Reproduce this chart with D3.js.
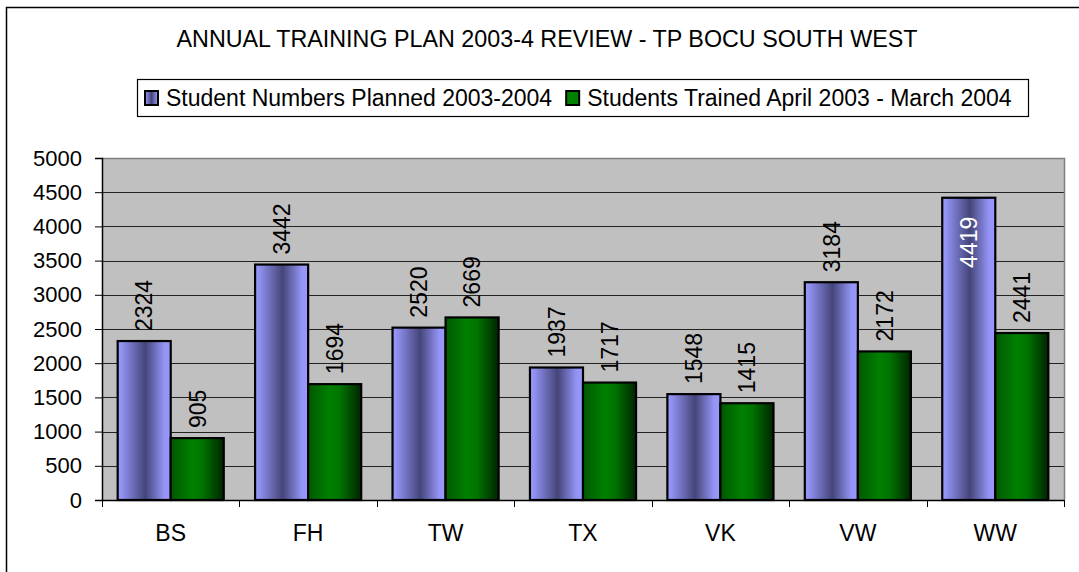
<!DOCTYPE html>
<html>
<head>
<meta charset="utf-8">
<script src="https://cdn.jsdelivr.net/npm/d3@7/dist/d3.min.js"></script>
<style>
  body { margin: 0; background: #fff; }
  text { font-family: Arial, "Liberation Sans", sans-serif; fill: #000; }
</style>
</head>
<body>
<div id="chart"></div>
<script>
// chart data
var categories = ["BS", "FH", "TW", "TX", "VK", "VW", "WW"];
var seriesNames = ["Student Numbers Planned 2003-2004", "Students Trained April 2003 - March 2004"];
var planned = [2324, 3442, 2520, 1937, 1548, 3184, 4419];
var trained = [905, 1694, 2669, 1717, 1415, 2172, 2441];
var yTicks = [0, 500, 1000, 1500, 2000, 2500, 3000, 3500, 4000, 4500, 5000];
var titleText = "ANNUAL TRAINING PLAN 2003-4 REVIEW - TP BOCU SOUTH WEST";

var W = 1079, H = 572;
var plot = {left: 102, right: 1064, top: 158, bottom: 500};

var svg = d3.select("#chart").append("svg")
    .attr("width", W)
    .attr("height", H);

// gradients for the excel style bars
var defs = svg.append("defs");
var gBlue = defs.append("linearGradient").attr("id", "gBlue")
    .attr("x1", "0%").attr("x2", "100%").attr("y1", "0%").attr("y2", "0%");
[[0, "#9999ff"], [0.06, "#9494f6"], [0.52, "#45457a"], [0.88, "#9494f6"], [1, "#9999ff"]]
  .forEach(function(s) { gBlue.append("stop").attr("offset", s[0]).attr("stop-color", s[1]); });
var gGreen = defs.append("linearGradient").attr("id", "gGreen")
    .attr("x1", "0%").attr("x2", "100%").attr("y1", "0%").attr("y2", "0%");
[[0, "#005800"], [0.4, "#008000"], [0.6, "#007400"], [1, "#002400"]]
  .forEach(function(s) { gGreen.append("stop").attr("offset", s[0]).attr("stop-color", s[1]); });
var gradSwatch = defs.append("linearGradient").attr("id", "gSwatch")
    .attr("x1", "0%").attr("x2", "100%");
[[0, "#9999ff"], [0.5, "#45457a"], [1, "#9999ff"]]
  .forEach(function(s) { gradSwatch.append("stop").attr("offset", s[0]).attr("stop-color", s[1]); });

// outer chart border (right and bottom fall outside the picture)
svg.append("rect")
    .attr("x", 6.5).attr("y", 7.5)
    .attr("width", W + 20).attr("height", H + 20)
    .attr("fill", "#fff")
    .attr("stroke", "#000")
    .attr("stroke-width", 1.5);

// scales
var x = d3.scaleBand()
    .domain(categories)
    .range([plot.left, plot.right]);

var groupW = x.bandwidth() * 0.772;
var x1 = d3.scaleBand()
    .domain([0, 1])
    .range([(x.bandwidth() - groupW) / 2, (x.bandwidth() + groupW) / 2]);

var y = d3.scaleLinear()
    .domain([0, 5000])
    .range([plot.bottom, plot.top]);

// plot background
svg.append("rect")
    .attr("x", plot.left).attr("y", plot.top)
    .attr("width", plot.right - plot.left)
    .attr("height", plot.bottom - plot.top)
    .attr("fill", "#c0c0c0");

// gridlines
svg.append("g")
    .selectAll("line")
    .data(yTicks.filter(function(t) { return t > 0 && t < 5000; }))
    .enter().append("line")
    .attr("x1", plot.left).attr("x2", plot.right)
    .attr("y1", function(d) { return Math.round(y(d)) + 0.5; })
    .attr("y2", function(d) { return Math.round(y(d)) + 0.5; })
    .attr("stroke", "#222")
    .attr("stroke-width", 1);

// plot border top/right grey
svg.append("path")
    .attr("d", "M" + plot.left + "," + (plot.top + 0.5) + "H" + (plot.right + 0.5) + "V" + plot.bottom)
    .attr("fill", "none")
    .attr("stroke", "#808080")
    .attr("stroke-width", 1.5);

// y axis
var yAxis = d3.axisLeft(y).tickValues(yTicks).tickFormat(d3.format("d")).tickSize(7).tickPadding(13);
var gy = svg.append("g")
    .attr("transform", "translate(" + plot.left + ",0)")
    .call(yAxis);
gy.attr("font-family", null).attr("font-size", null);
gy.select(".domain").attr("stroke", "#000").attr("stroke-width", 1.5);
gy.selectAll(".tick line").attr("stroke", "#000");
gy.selectAll(".tick text")
    .style("font-size", "22px")
    .attr("fill", "#000");

// bars
var series = [planned, trained];
var fills = ["url(#gBlue)", "url(#gGreen)"];

var groups = svg.append("g")
    .selectAll("g")
    .data(categories)
    .enter().append("g")
    .attr("transform", function(d) { return "translate(" + x(d) + ",0)"; });

series.forEach(function(vals, si) {
  groups.append("rect")
      .attr("x", x1(si))
      .attr("y", function(d, i) { return y(vals[i]); })
      .attr("width", x1.bandwidth())
      .attr("height", function(d, i) { return y(0) - y(vals[i]); })
      .attr("fill", fills[si])
      .attr("stroke", "#000")
      .attr("stroke-width", 2.2);
});

// data labels (rotated); labels that would leave the plot go inside in white
function inside(v) { return y(v) - 10 - 52 < plot.top; }
series.forEach(function(vals, si) {
  groups.append("text")
      .attr("transform", function(d, i) {
        var cx = x1(si) + x1.bandwidth() / 2;
        var top = y(vals[i]);
        return "translate(" + cx + "," + (inside(vals[i]) ? top + 19 : top - 10) + ") rotate(-90)";
      })
      .attr("text-anchor", function(d, i) { return inside(vals[i]) ? "end" : "start"; })
      .attr("dy", "0.36em")
      .style("font-size", "23px")
      .style("fill", function(d, i) { return inside(vals[i]) ? "#fff" : "#000"; })
      .text(function(d, i) { return vals[i]; });
});

// x axis
var xAxis = d3.axisBottom(x).tickSize(0).tickPadding(0);
var gx = svg.append("g")
    .attr("transform", "translate(0," + plot.bottom + ")")
    .call(xAxis);
gx.attr("font-family", null).attr("font-size", null);
gx.select(".domain").attr("stroke", "#000").attr("stroke-width", 1.5);
gx.selectAll(".tick text")
    .attr("y", 41).attr("dy", null)
    .style("font-size", "23px")
    .attr("fill", "#000");
// category separators
svg.append("g")
    .selectAll("line")
    .data(categories.map(function(c) { return x(c); }).concat([plot.right]))
    .enter().append("line")
    .attr("x1", function(d) { return Math.round(d) + 0.5; })
    .attr("x2", function(d) { return Math.round(d) + 0.5; })
    .attr("y1", plot.bottom).attr("y2", plot.bottom + 7)
    .attr("stroke", "#000");

// title
svg.append("text")
    .attr("x", 547)
    .attr("y", 47)
    .attr("text-anchor", "middle")
    .style("font-size", "23.3px")
    .text(titleText);

// legend
var legend = svg.append("g");
legend.append("rect")
    .attr("x", 137.5).attr("y", 79.5)
    .attr("width", 891).attr("height", 37)
    .attr("fill", "#fff")
    .attr("stroke", "#000")
    .attr("stroke-width", 1.2);
var lx = 145;
var swFills = ["url(#gSwatch)", "#008000"];
seriesNames.forEach(function(name, i) {
  legend.append("rect")
      .attr("x", lx).attr("y", 91)
      .attr("width", 13).attr("height", 14)
      .attr("fill", swFills[i])
      .attr("stroke", "#000")
      .attr("stroke-width", 2);
  var t = legend.append("text")
      .attr("x", lx + 21)
      .attr("y", 106)
      .style("font-size", "23px")
      .text(name);
  lx = lx + 21 + t.node().getComputedTextLength() + 14;
});
</script>
</body>
</html>
